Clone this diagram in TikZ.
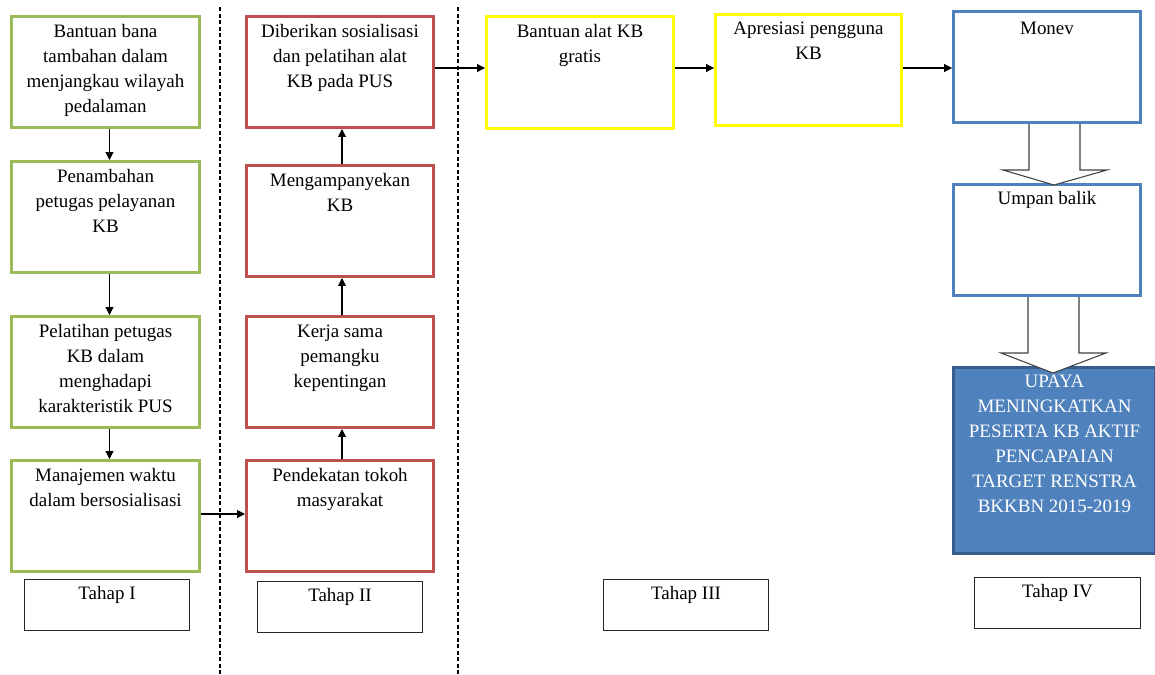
\documentclass[tikz,border=0pt]{standalone}
\usepackage{fontspec}
\setmainfont{Liberation Serif}
\usetikzlibrary{arrows.meta,calc}
\newlength\px \setlength\px{0.02cm}
\definecolor{ogreen}{HTML}{9BBB59}
\definecolor{ored}{HTML}{C0504D}
\definecolor{oyellow}{HTML}{FFFF00}
\definecolor{oblue}{HTML}{4F81BD}
\definecolor{odblue}{HTML}{385D8A}
\newcommand{\bt}[4]{\parbox[c][#2\px][t]{#1\px}{\centering\vspace*{#3\px}\strut #4\par}}
\begin{document}
\begin{tikzpicture}[x=0.02cm,y=-0.02cm, font=\fontsize{10.8}{14.2}\selectfont,
  stage/.style={draw=#1, line width=1.7pt, inner sep=0pt, fill=white},
  tahap/.style={draw=black!85, line width=0.6pt, inner sep=0pt},
  arr/.style={-{Triangle[length=4.5pt,width=4.5pt]}, line width=0.6pt},
  sepline/.style={dash pattern=on 2.3pt off 1.4pt, line width=0.6pt},
  hollow/.style={draw=black!75, fill=white, line width=0.6pt, line join=miter}]
\useasboundingbox (0,0) rectangle (1155,674);
% separators
\draw[sepline] (220,7) -- (220,674);
\draw[sepline] (458,7) -- (458,674);
% Tahap I
\node[stage=ogreen] (g1) at (105.5,72) {\bt{188}{111}{3.4}{Bantuan bana\\ tambahan dalam\\ menjangkau wilayah\\ pedalaman}};
\node[stage=ogreen] (g2) at (105.5,217) {\bt{188}{111}{3.4}{Penambahan\\ petugas pelayanan\\ KB}};
\node[stage=ogreen] (g3) at (105.5,372) {\bt{188}{111}{3.4}{Pelatihan petugas\\ KB dalam\\ menghadapi\\ karakteristik PUS}};
\node[stage=ogreen] (g4) at (105.5,516) {\bt{188}{111}{3.4}{Manajemen waktu\\ dalam bersosialisasi}};
% Tahap II
\node[stage=ored] (r1) at (340,72) {\bt{187}{111}{3.4}{Diberikan sosialisasi\\ dan pelatihan alat\\ KB pada PUS}};
\node[stage=ored] (r2) at (340,221) {\bt{187}{111}{3.4}{Mengampanyekan\\ KB}};
\node[stage=ored] (r3) at (340,372) {\bt{187}{111}{3.4}{Kerja sama\\ pemangku\\ kepentingan}};
\node[stage=ored] (r4) at (340,516) {\bt{187}{111}{3.4}{Pendekatan tokoh\\ masyarakat}};
% Tahap III
\node[stage=oyellow] (y1) at (580,72.5) {\bt{187}{112}{3.4}{Bantuan alat KB\\ gratis}};
\node[stage=oyellow] (y2) at (808.5,70) {\bt{186}{111}{2.4}{Apresiasi pengguna\\ KB}};
% Tahap IV
\node[stage=oblue] (b1) at (1047,67) {\bt{187}{111}{5.4}{Monev}};
\node[stage=oblue] (b2) at (1047,240) {\bt{187}{111}{2.4}{Umpan balik}};
\node[draw=odblue, fill=oblue, line width=1.7pt, inner sep=0pt, text=white] (b3) at (1054.5,460.5) {\bt{202}{186}{2.4}{UPAYA\\ MENINGKATKAN\\ PESERTA KB AKTIF\\ PENCAPAIAN\\ TARGET RENSTRA\\ BKKBN 2015-2019}};
% stage labels
\node[tahap] (t1) at (107,605) {\bt{165}{51}{2.3}{Tahap I}};
\node[tahap] (t2) at (340,607) {\bt{165}{51}{2.3}{Tahap II}};
\node[tahap] (t3) at (686,605) {\bt{165}{51}{2.3}{Tahap III}};
\node[tahap] (t4) at (1057.5,603) {\bt{166}{51}{2.3}{Tahap IV}};
% arrows
\draw[arr] ($(g1.south)+(4,0)$) -- ($(g2.north)+(4,0)$);
\draw[arr] ($(g2.south)+(4,0)$) -- ($(g3.north)+(4,0)$);
\draw[arr] ($(g3.south)+(4,0)$) -- ($(g4.north)+(4,0)$);
\draw[arr] ($(g4.east)+(0,-2)$) -- ($(r4.west)+(0,-2)$);
\draw[arr] ($(r4.north)+(2,0)$) -- ($(r3.south)+(2,0)$);
\draw[arr] ($(r3.north)+(2,0)$) -- ($(r2.south)+(2,0)$);
\draw[arr] ($(r2.north)+(2,0)$) -- ($(r1.south)+(2,0)$);
\coordinate (h) at ($(r1.east)+(0,-4)$);
\draw[arr] (h) -- (y1.west |- h);
\draw[arr] (y1.east |- h) -- (y2.west |- h);
\draw[arr] (y2.east |- h) -- (b1.west |- h);
% hollow block arrows
\draw[hollow] ($(b1.south)+(-18,0)$) -- ++(0,46) -- ++(-26,0) -- ($(b2.north)+(7,2)$) -- ($(b1.south)+(60,46)$) -- ++(-27,0) -- ++(0,-46);
\draw[hollow] ($(b2.south)+(-19,0)$) -- ++(0,56) -- ++(-27,0) -- ($(b3.north)+(-1.5,7)$) -- ($(b2.south)+(59,56)$) -- ++(-27,0) -- ++(0,-56);
\end{tikzpicture}
\end{document}
